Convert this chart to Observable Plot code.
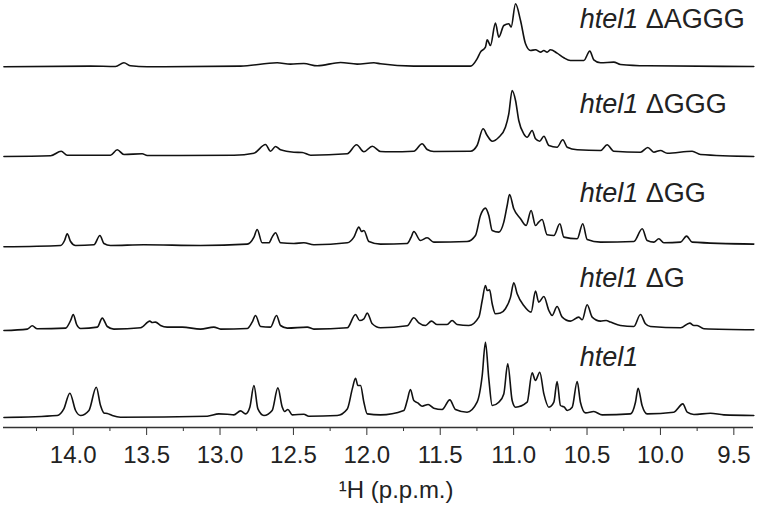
<!DOCTYPE html>
<html><head><meta charset="utf-8">
<script src="https://cdn.jsdelivr.net/npm/d3@7"></script>
<script src="https://cdn.jsdelivr.net/npm/@observablehq/plot@0.6"></script>
<style>body{margin:0;background:#fff}</style>
</head><body><div id="chart"></div>
<script>
// Spectra: chemical shift (ppm) and intensity (a.u.) above each baseline
const htel1Ppm = [14.472,14.109,14.064,14.023,13.984,13.950,13.893,13.843,13.814,13.791,13.768,13.734,13.678,13.087,13.008,12.951,12.906,12.860,12.826,12.797,12.769,12.742,12.701,12.645,12.606,12.576,12.560,12.538,12.508,12.429,12.395,12.202,12.133,12.099,12.077,12.061,12.043,12.020,11.997,11.907,11.748,11.725,11.703,11.680,11.653,11.623,11.582,11.544,11.487,11.435,11.396,11.317,11.249,11.214,11.192,11.169,11.146,11.101,11.067,11.040,11.010,10.987,10.908,10.874,10.851,10.822,10.794,10.760,10.726,10.704,10.681,10.654,10.635,10.601,10.567,10.545,10.510,10.454,10.397,10.204,10.170,10.152,10.125,10.091,9.909,9.847,9.818,9.772,9.659,9.568,9.364];
const htel1Int = [-0.3,1.7,8.3,24,6.7,1.7,6.7,30,11.7,4.3,3.7,1.7,0,1,3.3,3,2.3,6.3,3.3,10,31.7,8.3,1.7,6.7,29.3,10,5.7,7.7,2.3,3,1,1.7,8.3,28.3,39,31.7,31.7,15,3.3,2.3,6.7,16.7,27.7,16.7,14.3,11,12.7,9,7.7,17.3,7.7,5,15,41.7,75,38.3,11.7,15,23.3,53.3,16.7,10,15,44.3,36.7,45,23.3,10,15,35.7,11.7,10,6.7,10,35.7,15,4.3,5.7,2.3,3.3,15,29,11.7,3.3,5,13.3,5,2.7,4,2.3,1.7];

const dGPpm = [14.472,14.313,14.279,14.245,14.052,14.018,14.000,13.977,13.950,13.836,13.802,13.768,13.723,13.541,13.478,13.462,13.439,13.405,13.360,13.257,13.133,13.042,12.996,12.815,12.781,12.758,12.724,12.656,12.615,12.588,12.542,12.406,12.361,12.133,12.077,12.049,12.020,11.997,11.963,11.907,11.725,11.680,11.646,11.600,11.560,11.521,11.453,11.419,11.385,11.305,11.237,11.214,11.192,11.180,11.164,11.146,11.124,11.090,11.056,11.021,10.999,10.976,10.931,10.881,10.851,10.829,10.794,10.760,10.738,10.704,10.669,10.613,10.556,10.533,10.499,10.465,10.408,10.370,10.340,10.272,10.181,10.136,10.102,10.068,9.863,9.800,9.772,9.750,9.704,9.364];
const dGInt = [-0.7,0.7,4,1,1.7,9.3,15.3,5.3,1.3,2.7,11.7,3.3,0.7,2,8.7,7.3,7.7,4.3,2.7,2.7,0.7,2.7,0.7,1.3,7.7,14.3,3.3,2.7,14.3,4.3,1.7,2.7,0.7,2,15.3,9.3,11,16.7,6,2,4,12,7,4.3,8.7,5.3,5.3,9.3,5.3,4.3,12.7,29.3,44.3,39.3,40,26,16,16.7,21,32.7,47,36,24.3,17.7,38.7,27.7,33.3,19.3,14.3,23.3,12.7,8.7,12.7,10,25,12.7,8.7,9.3,7.7,4.3,3.3,15.3,6,3.3,2,6.7,4.3,4.3,1,0];

const dGGPpm = [14.472,14.086,14.059,14.041,14.018,13.984,13.859,13.818,13.791,13.746,13.519,13.133,12.815,12.769,12.747,12.713,12.667,12.645,12.622,12.588,12.497,12.429,12.361,12.133,12.088,12.054,12.036,12.020,11.986,11.907,11.725,11.698,11.680,11.635,11.589,11.544,11.317,11.260,11.226,11.192,11.169,11.146,11.101,11.067,11.044,11.028,10.999,10.953,10.915,10.881,10.851,10.829,10.806,10.772,10.726,10.685,10.658,10.567,10.529,10.499,10.408,10.181,10.124,10.090,10.045,10.011,9.977,9.863,9.822,9.784,9.364];
const dGGInt = [0,1.3,6.3,13,5.3,1.3,2,11.3,3.3,1.3,2,1.3,2.7,9.7,17.3,4,4,9.7,14,4,3.3,4,2,4,9.7,19.7,15.3,16.3,5.3,2.7,3.3,9.7,15.3,6.3,9,4.7,5.3,11.3,31.3,38.7,31.3,16.3,14.7,24.7,41.3,52.3,38,28,21.3,36.3,21.3,24.7,27.3,12,11.3,23,9.7,8,23,7.3,4.7,5.3,18,6.3,4.7,8,4,4.7,10.7,4.7,2.7];

const dGGGPpm = [14.472,14.154,14.082,14.041,13.746,13.700,13.655,13.530,13.496,12.905,12.769,12.690,12.656,12.622,12.588,12.497,12.440,12.383,12.133,12.070,12.020,11.963,11.907,11.839,11.680,11.623,11.589,11.544,11.294,11.249,11.208,11.180,11.146,11.101,11.056,11.033,11.010,10.987,10.965,10.931,10.908,10.874,10.851,10.822,10.794,10.760,10.704,10.665,10.635,10.567,10.408,10.363,10.318,10.136,10.086,10.045,10.000,9.954,9.784,9.727,9.364];
const dGGGInt = [0,0.7,5.3,1.3,1.3,6.7,2,2.7,1,1.3,3.3,12,5.3,10,6.7,4.3,4,1.3,2.7,11.7,4.7,10.3,5,4.7,5.3,12.7,7,5,5.3,11,27.7,21,15.3,19.3,29.3,42.7,66,56,36,22.7,19.3,26,17.7,15.3,20.3,11,9.3,16.7,9.3,6.7,6,11.7,5.3,4.3,9,4.3,6,3.3,5.3,2,0];

const dAGGGPpm = [14.472,13.882,13.712,13.655,13.609,13.496,12.860,12.611,12.520,12.429,12.338,12.179,12.066,11.952,11.907,11.680,11.294,11.249,11.226,11.192,11.180,11.158,11.124,11.101,11.067,11.033,11.017,10.987,10.953,10.919,10.885,10.851,10.817,10.794,10.772,10.749,10.704,10.658,10.613,10.522,10.481,10.454,10.408,10.318,10.272,10.090,9.364];
const dAGGGInt = [0,0.7,0.3,4,1,0,0.7,4,2.7,3.3,1,4.3,2.7,4,3,0.7,0.7,8,14.7,19.7,27,21.3,43.7,29.7,41.3,43,39.7,63,46.3,23,16.3,17,14.7,16.3,14.7,17,13.7,9,6.3,6.3,15.7,7,4,4.7,2.3,1,0.3];

const labels = ["htel1", "htel1 ΔG", "htel1 ΔGG", "htel1 ΔGGG", "htel1 ΔAGGG"];
const offsets = [10.3, 97.7, 180.7, 271, 360.7];        // stacking offset of each trace
const labelHeights = [51, 43, 45, 44, 39];               // label baseline above each trace
const majorTicks = [14.0, 13.5, 13.0, 12.5, 12.0, 11.5, 11.0, 10.5, 10.0, 9.5];
const minorTicks = [14.25, 13.75, 13.25, 12.75, 12.25, 11.75, 11.25, 10.75, 10.25, 9.75];
const axisTitle = "¹H (p.p.m.)";

const series = [[htel1Ppm, htel1Int], [dGPpm, dGInt], [dGGPpm, dGGInt], [dGGGPpm, dGGGInt], [dAGGGPpm, dAGGGInt]];
const rows = series.flatMap(([p, v], i) => p.map((ppm, j) => ({ppm, y: v[j] + offsets[i], name: labels[i]})));
const labelRows = labels.map((name, i) => ({name, ppm: 10.55, y: offsets[i] + labelHeights[i]}));

const chart = Plot.plot({
  width: 761, height: 505,
  marginLeft: 3, marginRight: 8, marginTop: 0, marginBottom: 78,
  x: {domain: [14.475, 9.366], label: null},
  y: {domain: [0, 427], axis: null},
  style: {fontFamily: "'Liberation Sans', Arial, sans-serif", color: "#222", background: "#fff"},
  marks: [
    Plot.line(rows, {x: "ppm", y: "y", z: "name", curve: "monotone-x", stroke: "#111", strokeWidth: 1.6}),
    Plot.ruleY([0], {stroke: "#333", strokeWidth: 1.3}),
    Plot.axisX({ticks: majorTicks, tickSize: 8, tickPadding: 10, tickFormat: d => d.toFixed(1), fontSize: 24, stroke: "#333", label: null}),
    Plot.axisX({ticks: minorTicks, tickSize: 4, tickFormat: () => "", stroke: "#333", label: null}),
    Plot.text(labelRows, {x: "ppm", y: "y", text: "name", textAnchor: "start", lineAnchor: "bottom", fontSize: 27, fill: "#222", className: "speclabel"}),
    Plot.text([axisTitle], {x: () => 11.8, frameAnchor: "bottom", lineAnchor: "bottom", dy: 70, fontSize: 24, fill: "#222"})
  ]
});
document.getElementById("chart").appendChild(chart);
// italicise the construct name inside each label
d3.select(chart).selectAll(".speclabel text").each(function() {
  const t = this.textContent;
  const rest = t.slice(5);
  const sel = d3.select(this);
  sel.text(null);
  sel.append("tspan").attr("font-style", "italic").text("htel1");
  if (rest) sel.append("tspan").text(rest);
});
</script>
</body></html>
